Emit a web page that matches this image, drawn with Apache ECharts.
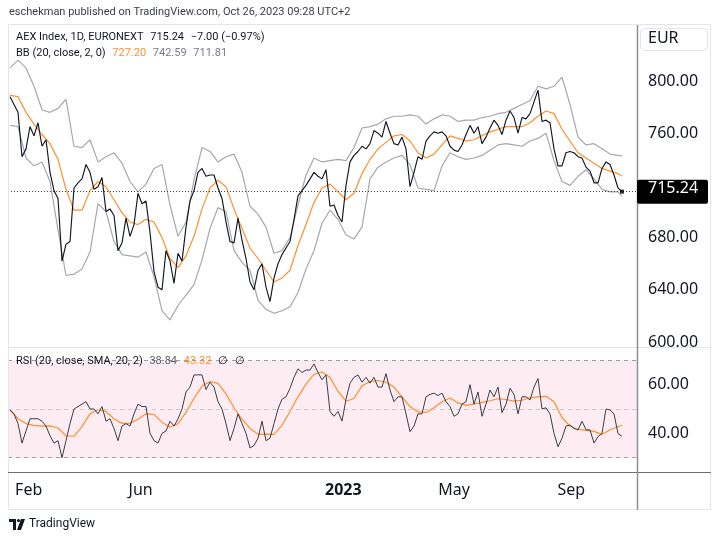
<!DOCTYPE html>
<html><head><meta charset="utf-8">
<script src="https://cdn.jsdelivr.net/npm/echarts@6/dist/echarts.min.js"></script>
<style>html,body{margin:0;padding:0;background:#fff}#c{width:720px;height:541px}</style>
</head><body><div id="c"></div>
<script>
// ---- data (AEX daily, sampled every 3 trading days; indicators every 6) ----
const DAYS_PER_CLOSE = 3;
const DAYS_PER_IND = 6;
const LAST_DAY = 459;
const closeVals = [788,782,776,742,748,765,758,768,750,755,730,716,710,662,675,677,718,722,725,736,
730,717,719,726,700,702,697,670,676,695,681,690,714,706,708,684,654,642,640,670,
662,645,668,662,688,708,716,730,733,727,728,728,718,710,692,677,676,695,678,664,
646,640,655,660,642,631,649,660,667,672,677,694,712,716,720,725,730,727,725,732,
704,705,697,692,720,738,743,746,750,748,752,762,760,757,769,760,752,751,757,748,
719,730,742,740,754,758,761,760,761,758,750,747,746,751,759,766,760,765,752,757,
764,770,766,759,770,777,772,760,772,771,775,784,793,769,770,768,748,735,735,745,
746,745,742,741,734,731,722,722,733,738,736,728,718,715.24];
const bbBasis = [789,788,776,767,759,752,740,717,701,701,716,723,719,709,699,692,690,694,692,680,
664,657,666,681,702,718,724,719,702,687,672,664,655,646,649,655,674,690,707,718,
721,715,709,714,729,740,748,753,758,759,754,745,741,744,751,758,756,754,755,758,
761,763,765,765,765,768,773,777,775,763,754,745,741,737,733,731,729,727.20];
const bbUpper = [810,816,810,796,778,776,779,786,750,749,755,738,742,745,737,723,715,721,733,736,
705,681,692,724,749,746,738,742,744,730,704,698,688,668,670,680,705,728,741,738,
739,740,739,749,764,765,767,771,773,773,774,773,767,771,774,773,769,770,770,772,
773,775,776,779,782,785,796,794,796,803,782,757,751,752,748,744,743,742.59];
const bbLower = [766,765,741,735,738,723,686,651,652,656,669,706,700,677,667,666,665,669,650,624,
617,628,636,644,663,687,703,700,670,661,655,632,625,622,624,627,638,656,670,691,
701,694,682,679,688,725,734,738,741,743,736,718,717,716,735,745,742,740,741,743,
747,751,752,751,750,754,756,760,739,723,720,727,732,725,717,715,715,711.81];
const rsiVals = [49.6,48,44,36,41,46,46,46,45,43,39,36,37,30,37,44,50,51,52,53,
50,50,48,51,45,46,42,37,43,44,43,48,52,51,51,40,37,36,40,41,
45,43,46,50,57,59,64,64,64,58,61,59,53,50,44,37,42,48,44,40,
34,35,38,45,37,38,44,50,54,55,58.5,63,66.5,65,66,66,68.5,65,62,64,
49,47,49,45,54,60.6,63,64,61,63,60.6,63,59,59,64.5,57.8,53,55,55,48,
40.7,43,48,48,55,56,56.5,55.5,56.5,53,51,47,48,52,53,60,52,57,47,52,
57.8,55,59,48.5,52,58.5,56,48,55,55,53.7,59,62.5,50,50.5,48,40,34.5,38,43,
43.4,42,41.4,45,41.5,41.4,36,38.6,40,50,49.6,48,39.9,38.84];
const rsiSma = [49.6,46,44,43.3,43,43.1,42.2,39,38.8,42.8,48,49.8,49,46,44.1,44.1,45.8,48,47.8,44.6,
42.5,44,48.6,54.3,59.3,61.3,60.5,56.2,50.5,45.8,42,39.6,39.7,39.6,43.3,49,55,60.2,64.2,65.2,
63,57.3,53.2,54.3,59.5,61.3,61.7,61,59,55,51,48.8,48.6,50.5,53,54.5,52.5,51.5,52,52.7,
53.4,54.2,53.9,53.2,53.6,54.6,55,55.2,53,46.5,43,41.6,41.2,40.8,39.6,41.4,42.8,43.32];
const priceTicks = [600,640,680,760,800];
const rsiTicks = [40,60];
const rsiLevels = [30,50,70];
const monthDays = [14,98,250,333,421];
const monthNames = ['Feb','Jun','2023','May','Sep'];
const lastPrice = 715.24;

// ---- build ----
const F = "'Noto Sans', 'DejaVu Sans', sans-serif";
const FS = "Roboto, 'Noto Sans', sans-serif";
const closeData = closeVals.map((v,i)=>[i*DAYS_PER_CLOSE, v]);
const indX = i => Math.min(i*DAYS_PER_IND, LAST_DAY);
const mk = arr => arr.map((v,i)=>[indX(i), v]);
const X_MIN = -1.5, X_MAX = 470.25;
const ORANGE = '#ff8f2e', BAND = '#a5a8b0';

const chart = echarts.init(document.getElementById('c'));
const lineBase = {type:'line', showSymbol:false, symbol:'none', animation:false, silent:true};
chart.setOption({
  animation:false,
  backgroundColor:'#ffffff',
  textStyle:{fontFamily:F},
  grid:[
    {left:8, right:83, top:25, height:322},
    {left:8, right:83, top:347, height:125}
  ],
  xAxis:[
    {type:'value', gridIndex:0, min:X_MIN, max:X_MAX, show:false},
    {type:'value', gridIndex:1, min:X_MIN, max:X_MAX,
     axisLine:{show:false}, axisTick:{show:false}, splitLine:{show:false},
     axisLabel:{customValues:monthDays, margin:10, color:'#131722', fontSize:16, fontFamily:F,
       formatter:v=>{const k=monthDays.indexOf(Math.round(v)); if(k<0) return ''; const n=monthNames[k]; return /^\d{4}$/.test(n)?'{b|'+n+'}':n;},
       rich:{b:{fontWeight:'bold', fontSize:16, color:'#131722', fontFamily:F}}}}
  ],
  yAxis:[
    {type:'value', gridIndex:0, position:'right', min:596.2, max:842.9, scale:true,
     axisLine:{show:false}, axisTick:{show:false}, splitLine:{show:false},
     axisLabel:{customValues:priceTicks, margin:11, color:'#131722', fontSize:16, fontFamily:F, formatter:v=>v.toFixed(2)}},
    {type:'value', gridIndex:1, position:'right', min:24.13, max:75.46, scale:true,
     axisLine:{show:false}, axisTick:{show:false}, splitLine:{show:false},
     axisLabel:{customValues:rsiTicks, margin:11, color:'#131722', fontSize:16, fontFamily:F, formatter:v=>v.toFixed(2)}}
  ],
  series:[
    Object.assign({}, lineBase, {name:'upper', xAxisIndex:0, yAxisIndex:0, data:mk(bbUpper), lineStyle:{color:BAND, width:1.2}, z:2}),
    Object.assign({}, lineBase, {name:'lower', xAxisIndex:0, yAxisIndex:0, data:mk(bbLower), lineStyle:{color:BAND, width:1.2}, z:2}),
    Object.assign({}, lineBase, {name:'basis', xAxisIndex:0, yAxisIndex:0, data:mk(bbBasis), lineStyle:{color:ORANGE, width:1.2}, z:3}),
    Object.assign({}, lineBase, {name:'close', xAxisIndex:0, yAxisIndex:0, data:closeData, lineStyle:{color:'#131722', width:1.15}, z:5,
      markLine:{silent:true, symbol:'none', label:{show:false}, lineStyle:{color:'#444', type:[1,2], width:1},
        data:[{yAxis:lastPrice}]}}),
    {type:'scatter', xAxisIndex:0, yAxisIndex:0, data:[closeData[closeData.length-1]], symbol:'rect', symbolSize:4,
      itemStyle:{color:'#000'}, z:6, silent:true, animation:false},
    Object.assign({}, lineBase, {name:'rsi', xAxisIndex:1, yAxisIndex:1, data:rsiVals.map((v,i)=>[i*DAYS_PER_CLOSE, v]),
      lineStyle:{color:'#3b3e47', width:1}, z:5,
      markArea:{silent:true, itemStyle:{color:'#fdecf1'}, data:[[{yAxis:rsiLevels[0]},{yAxis:rsiLevels[2]}]]},
      markLine:{silent:true, symbol:'none', label:{show:false},
        data:[
          {yAxis:rsiLevels[2], lineStyle:{color:'#9a9ca4', type:[4,4], width:1}},
          {yAxis:rsiLevels[1], lineStyle:{color:'#c9cbd1', type:[4,4], width:1}},
          {yAxis:rsiLevels[0], lineStyle:{color:'#9a9ca4', type:[4,4], width:1}}
        ]}}),
    Object.assign({}, lineBase, {name:'rsiSma', xAxisIndex:1, yAxisIndex:1, data:mk(rsiSma), lineStyle:{color:ORANGE, width:1.2}, z:4})
  ]
});

const yLast = chart.convertToPixel({yAxisIndex:0}, lastPrice);
const g = [
  {type:'text', left:9, top:7, z:100, style:{text:'eschekman published on TradingView.com, Oct 26, 2023 09:28 UTC+2', fill:'#3b3e47', font:'11px '+FS}},
  {type:'rect', z:90, shape:{x:8.5, y:24.5, width:702, height:485}, style:{fill:null, stroke:'#e3e5ea', lineWidth:1}},
  {type:'rect', z:95, shape:{x:638, y:347.5, width:72, height:10}, style:{fill:'#fff'}},
  {type:'line', z:96, shape:{x1:8, y1:347.5, x2:711, y2:347.5}, style:{stroke:'#e3e5ea', lineWidth:1}},
  {type:'line', z:97, shape:{x1:8, y1:472.5, x2:711, y2:472.5}, style:{stroke:'#6a6d78', lineWidth:1.2}},
  {type:'line', z:97, shape:{x1:637.5, y1:25, x2:637.5, y2:510}, style:{stroke:'#8c8f98', lineWidth:1.5}},
  {type:'rect', z:98, shape:{x:640.5, y:28.5, width:67, height:22, r:4}, style:{fill:'#fff', stroke:'#e3e5ea', lineWidth:1}},
  {type:'text', z:99, left:648, top:30, style:{text:'EUR', fill:'#131722', font:'16px '+F}},
  {type:'rect', z:98, shape:{x:637, y:yLast-12, width:71, height:24, r:2}, style:{fill:'#000'}},
  {type:'text', z:99, left:648, top:yLast-11, style:{text:lastPrice.toFixed(2), fill:'#fff', font:'16px '+F}},
  {type:'text', z:100, left:16, top:31, style:{text:'{a|AEX Index, 1D, EURONEXT}  {a|715.24}  {a|\u22127.00 (\u22120.97%)}',
     rich:{a:{fill:'#131722', font:'11px '+FS}}}},
  {type:'text', z:100, left:16, top:47, style:{text:'{a|BB (20, close, 2, 0)}  {o|727.20}  {g|742.59}  {g|711.81}',
     rich:{a:{fill:'#131722', font:'11px '+FS}, o:{fill:ORANGE, font:'11px '+FS}, g:{fill:'#787b86', font:'11px '+FS}}}},
  {type:'text', z:100, left:16, top:355, style:{text:'{a|RSI (20, close, SMA, 20, 2)}  {g|38.84}  {o|43.32}  {a|\u2205}  {a|\u2205}',
     rich:{a:{fill:'#131722', font:'11px '+FS}, o:{fill:ORANGE, font:'11px '+FS}, g:{fill:'#5d606b', font:'11px '+FS}}}},
  {type:'polygon', z:100, shape:{points:[[9,519],[16,519],[16,530],[13,530],[13,522],[9,522]]}, style:{fill:'#131722'}},
  {type:'circle', z:100, shape:{cx:18.5, cy:520.5, r:1.6}, style:{fill:'#131722'}},
  {type:'polygon', z:100, shape:{points:[[21,519],[25,519],[21,530],[17,530]]}, style:{fill:'#131722'}},
  {type:'text', z:100, left:29, top:518, style:{text:'TradingView', fill:'#131722', font:'12px '+FS}}
];
chart.setOption({graphic:g});
</script></body></html>
